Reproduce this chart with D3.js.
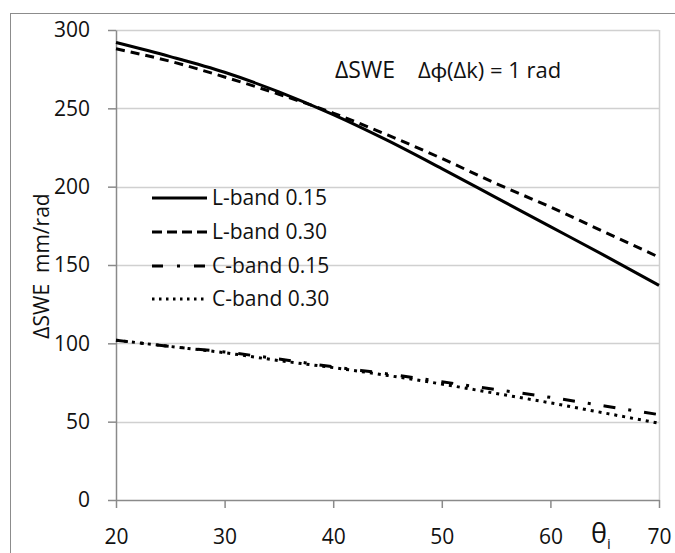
<!DOCTYPE html>
<html>
<head>
<meta charset="utf-8">
<script src="https://cdn.jsdelivr.net/npm/d3@7"></script>
<style>
  html, body { margin: 0; padding: 0; background: #fff; }
  svg { display: block; font-family: "Open Sans", Lato, sans-serif; }
  text { white-space: pre; }
</style>
</head>
<body>
<svg id="chart" width="675" height="553"></svg>
<script>
// ---- data ----
const angles = [20, 25, 30, 35, 40, 45, 50, 55, 60, 65, 70];
const lBand015 = [292, 283, 273, 260.5, 246, 229.5, 211.5, 193, 174.5, 156, 137];
const lBand030 = [288, 280, 270, 259, 247, 233, 218, 202, 187, 171, 155];
const cBand015 = [102, 98, 94.5, 90, 85, 80.5, 75.5, 70.5, 65.5, 60, 54.5];
const cBand030 = [102, 98, 94, 89, 84.5, 79.5, 74, 68, 62, 55.5, 49];
const seriesNames = ["L-band 0.15", "L-band 0.30", "C-band 0.15", "C-band 0.30"];
const xTickValues = [20, 30, 40, 50, 60, 70];
const yTickValues = [0, 50, 100, 150, 200, 250, 300];

const FONT = "'Open Sans', Lato, sans-serif";
const svg = d3.select("#chart");
const x = d3.scaleLinear().domain([20, 70]).range([116, 659]);
const y = d3.scaleLinear().domain([0, 300]).range([500, 30]);

// outer frame
svg.append("rect").attr("x", 10.5).attr("y", 13.5).attr("width", 700).attr("height", 600)
  .attr("fill", "none").attr("stroke", "#8c8c8c").attr("stroke-width", 1);

// gridlines
svg.append("g").selectAll("line").data(yTickValues.filter(d => d > 0)).join("line")
  .attr("x1", x(20)).attr("x2", x(70))
  .attr("y1", d => Math.round(y(d)) + 0.5).attr("y2", d => Math.round(y(d)) + 0.5)
  .attr("stroke", "#d0d0d0").attr("stroke-width", 1.5);
// right border of plot
svg.append("line").attr("x1", x(70) + 0.5).attr("x2", x(70) + 0.5)
  .attr("y1", y(300)).attr("y2", y(0)).attr("stroke", "#d0d0d0").attr("stroke-width", 1.5);

// axes
const yAxis = d3.axisLeft(y).tickValues(yTickValues).tickSize(8).tickPadding(18).tickSizeOuter(0);
const xAxis = d3.axisBottom(x).tickValues(xTickValues).tickSize(8).tickPadding(21).tickSizeOuter(0);
const gy = svg.append("g").attr("transform", `translate(${x(20)},0)`).call(yAxis);
const gx = svg.append("g").attr("transform", `translate(0,${y(0)})`).call(xAxis);
[gx, gy].forEach(g => {
  g.selectAll("path, line").attr("stroke", "#8a8a8a").attr("stroke-width", 1.5);
  g.selectAll("text").attr("font-size", 21).attr("fill", "#111").attr("font-family", FONT);
});

// lines
const line = d3.line().x((d, i) => x(angles[i])).y(d => y(d)).curve(d3.curveMonotoneX);
const styles = [
  { data: lBand015, dash: null },
  { data: lBand030, dash: "9,6" },
  { data: cBand015, dash: "12,13,3,13" },
  { data: cBand030, dash: "3,5" }
];
svg.append("g").selectAll("path").data(styles).join("path")
  .attr("d", d => line(d.data))
  .attr("fill", "none").attr("stroke", "#000").attr("stroke-width", 3)
  .attr("stroke-dasharray", d => d.dash);

// legend
const legendY = [198, 232, 266, 299];
const legendDash = [null, "10,5", "11,14,3,14", "2.5,4.5"];
const lg = svg.append("g");
styles.forEach((s, i) => {
  lg.append("line").attr("x1", 152).attr("x2", 207)
    .attr("y1", legendY[i]).attr("y2", legendY[i])
    .attr("stroke", "#000").attr("stroke-width", 3)
    .attr("stroke-dasharray", legendDash[i]);
  lg.append("text").attr("x", 212).attr("y", legendY[i]).attr("dy", "0.35em")
    .attr("font-size", 21).attr("fill", "#111").text(seriesNames[i]);
});

// title
svg.append("text").attr("x", 335).attr("y", 70).attr("dy", "0.35em")
  .attr("font-size", 23).attr("fill", "#111").text("ΔSWE");
svg.append("text").attr("x", 418).attr("y", 70).attr("dy", "0.35em")
  .attr("font-size", 22).attr("fill", "#111").text("Δϕ(Δk) = 1 rad");

// y label
svg.append("text").attr("transform", "translate(42,266) rotate(-90)")
  .attr("text-anchor", "middle").attr("dy", "0.35em")
  .attr("font-size", 21).attr("fill", "#111").text("ΔSWE  mm/rad");

// x label
const xl = svg.append("text").attr("x", 591).attr("y", 534).attr("dy", "0.35em")
  .attr("font-size", 27).attr("fill", "#111");
xl.append("tspan").text("θ");
xl.append("tspan").attr("font-size", 15).attr("dy", "0.4em").text("i");
</script>
</body>
</html>
